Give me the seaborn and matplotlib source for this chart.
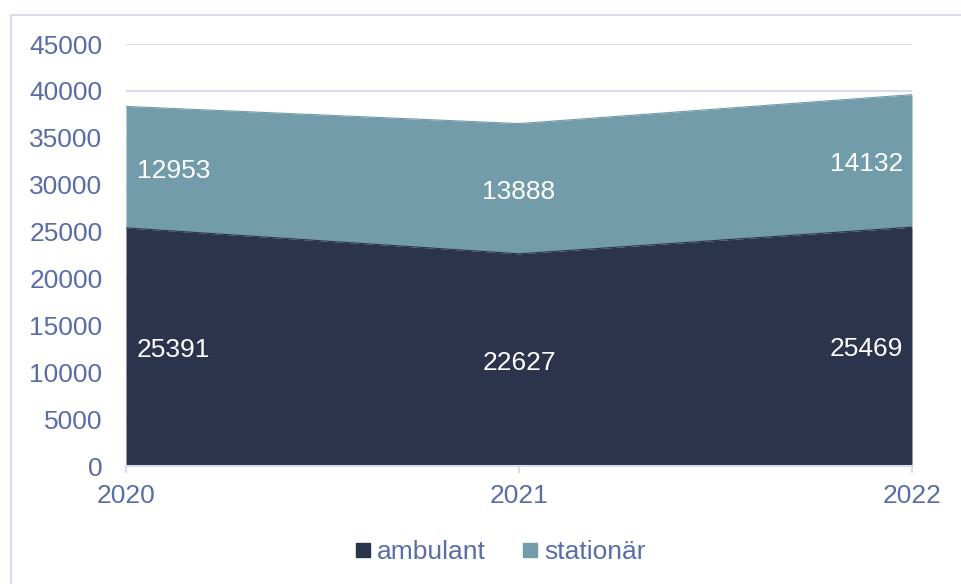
import matplotlib.pyplot as plt
import numpy as np
import pandas as pd
import seaborn as sns
from matplotlib.lines import Line2D

years = [2020, 2021, 2022]
ambulant = [25391, 22627, 25469]
stationaer = [12953, 13888, 14132]
series_names = ['ambulant', 'stationär']
colors = ['#2C334D', '#729CA9']
text_color = '#5B6DA6'
grid_color = '#D9DCEC'

sns.set_style('white')
plt.rcParams['font.family'] = ['Liberation Sans', 'DejaVu Sans']

fig = plt.figure(figsize=(9.62, 5.84), dpi=100)
ax = fig.add_axes([126 / 962, 1 - 466 / 584, (912 - 126) / 962, (466 - 44) / 584])

df = pd.DataFrame({'year': years, 'ambulant': ambulant, 'stationär': stationaer})
df['top'] = df['ambulant'] + df['stationär']

ax.fill_between(df['year'], 0, df['ambulant'], color=colors[0], lw=0, zorder=2)
ax.fill_between(df['year'], df['ambulant'], df['top'], color=colors[1], lw=0, zorder=2)
sns.lineplot(data=df, x='year', y='ambulant', color=colors[0], lw=0.8, ax=ax, zorder=3)
sns.lineplot(data=df, x='year', y='top', color=colors[1], lw=0.8, ax=ax, zorder=3)

ax.set_xlim(2020, 2022)
ax.set_ylim(0, 45000)
ax.set_yticks(np.arange(0, 45001, 5000))
ax.set_xticks(years)
ax.set_xticklabels([str(y) for y in years])
ax.set_xlabel('')
ax.set_ylabel('')
ax.grid(axis='y', color=grid_color, lw=1.5, zorder=0)
ax.grid(axis='x', visible=False)
for s in ['top', 'right', 'left']:
    ax.spines[s].set_visible(False)
ax.spines['bottom'].set_color(grid_color)
ax.spines['bottom'].set_linewidth(1.5)
ax.tick_params(axis='y', length=0, labelsize=19, labelcolor=text_color, pad=17)
ax.tick_params(axis='x', length=5, width=1.5, color=grid_color, labelsize=19,
               labelcolor=text_color, pad=8, direction='out', bottom=True)

has = ['left', 'center', 'right']
offs = [8, 0, -6.5]
for i, yr in enumerate(years):
    ax.annotate(str(ambulant[i]), (yr, ambulant[i] / 2), xytext=(offs[i], -2),
                textcoords='offset points', ha=has[i], va='center',
                color='white', fontsize=19, zorder=5)
    ax.annotate(str(stationaer[i]), (yr, ambulant[i] + stationaer[i] / 2), xytext=(offs[i], -2.5),
                textcoords='offset points', ha=has[i], va='center',
                color='white', fontsize=19, zorder=5)

handles = [Line2D([], [], marker='s', ls='', markersize=10, color=c) for c in colors]
fig.legend(handles, series_names, loc='center', bbox_to_anchor=(0.518, 0.055), ncol=2,
           frameon=False, fontsize=19, labelcolor=text_color, handletextpad=0.1,
           columnspacing=1.2, handlelength=0.9)

# outer frame: only the left and top edges are visible in the reference
bx, by = 11 / 962, 1 - 15 / 584
fig.add_artist(Line2D([bx, bx, 1.0], [0.0, by, by], transform=fig.transFigure,
                      color=grid_color, lw=1.5))

fig.savefig('out.png', dpi=100)
